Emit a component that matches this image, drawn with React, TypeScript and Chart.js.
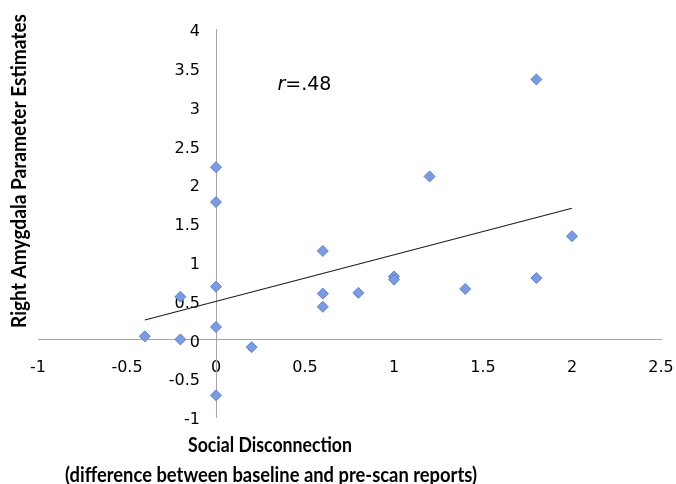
import React, { useEffect, useRef } from "react";
import { Chart, registerables } from "chart.js";

Chart.register(...registerables);

// Data
const xValues = [-0.4, -0.2, -0.2, 0, 0, 0, 0, 0, 0.2, 0.6, 0.6, 0.6, 0.8, 1.0, 1.0, 1.2, 1.4, 1.8, 1.8, 2.0];
const yValues = [0.04, 0.55, 0.0, 2.22, 1.77, 0.68, 0.16, -0.72, -0.1, 1.14, 0.59, 0.42, 0.6, 0.81, 0.77, 2.1, 0.65, 3.35, 0.79, 1.33];
const trendX = [-0.4, 2.0];
const trendY = [0.25, 1.69];

const xRange = [-1, 2.5];
const yRange = [-1, 4];
const tickStep = 0.5;
const axisCross = 0;

const xTitleLines = ["Social Disconnection", "(difference between baseline and pre-scan reports)"];
const yTitle = "Right Amygdala Parameter Estimates";
const rLabelItalic = "r";
const rLabelRest = "=.48";
const rLabelAt = [0.345, 3.22];

const TITLE_FONT = "Lato";
const TITLE_SIZE = 21;

function drawScaled(ctx: CanvasRenderingContext2D, text: string, cx: number, cy: number, targetWidth: number) {
  const w = ctx.measureText(text).width;
  ctx.save();
  ctx.translate(cx, cy);
  ctx.scale(targetWidth / w, 1);
  ctx.fillText(text, 0, 0);
  ctx.restore();
}

// Moves the axes so they cross at value 0 (Excel-style); keeps a label band next to each axis
const crossPlugin = {
  id: "crossPlugin",
  afterLayout(chart: any) {
    const xs = chart.scales.x;
    const ys = chart.scales.y;
    const px = xs.getPixelForValue(axisCross);
    const py = ys.getPixelForValue(axisCross);
    ys.right = px;
    ys.left = 0;
    xs.top = py;
    xs.bottom = chart.height;
  },
};

const textPlugin = {
  id: "textPlugin",
  afterDraw(chart: any) {
    const ctx: CanvasRenderingContext2D = chart.ctx;
    ctx.save();
    ctx.fillStyle = "#000";
    ctx.font = `bold ${TITLE_SIZE}px ${TITLE_FONT}`;
    ctx.textAlign = "center";
    ctx.textBaseline = "middle";
    drawScaled(ctx, xTitleLines[0], 270, 445, 164);
    drawScaled(ctx, xTitleLines[1], 271, 475, 412);

    ctx.save();
    ctx.translate(19, 171);
    ctx.rotate(-Math.PI / 2);
    drawScaled(ctx, yTitle, 0, 0, 314);
    ctx.restore();

    const px = chart.scales.x.getPixelForValue(rLabelAt[0]);
    const py = chart.scales.y.getPixelForValue(rLabelAt[1]);
    ctx.textAlign = "left";
    ctx.textBaseline = "alphabetic";
    ctx.font = 'italic 19px "DejaVu Sans"';
    ctx.fillText(rLabelItalic, px, py);
    const w = ctx.measureText(rLabelItalic).width;
    ctx.font = '19px "DejaVu Sans"';
    ctx.fillText(rLabelRest, px + w, py);
    ctx.restore();
  },
};

const fmt = (v: any) => String(Math.round(Number(v) * 10) / 10);

export default function App() {
  const canvasRef = useRef<HTMLCanvasElement | null>(null);

  useEffect(() => {
    document.body.style.margin = "0";
    const canvas = canvasRef.current;
    if (!canvas) return;
    const points = xValues.map((x, i) => ({ x, y: yValues[i] }));
    const trend = trendX.map((x, i) => ({ x, y: trendY[i] }));
    const tickFont = { family: '"DejaVu Sans"', size: 16 };

    const chart = new Chart(canvas, {
      type: "scatter",
      data: {
        datasets: [
          {
            label: "data",
            data: points,
            pointStyle: "rectRot",
            pointRadius: 5.5,
            pointBackgroundColor: "#7b9be0",
            pointBorderColor: "#5f80cc",
            pointBorderWidth: 1,
            showLine: false,
          },
          {
            label: "trend",
            data: trend,
            showLine: true,
            pointRadius: 0,
            borderColor: "#1e1e1e",
            borderWidth: 1.2,
            fill: false,
          },
        ],
      },
      options: {
        responsive: false,
        animation: false,
        devicePixelRatio: 1,
        layout: { padding: { left: 38, top: 29, right: 15, bottom: 67 } },
        plugins: { legend: { display: false }, tooltip: { enabled: false } },
        scales: {
          x: {
            type: "linear",
            position: "bottom",
            min: xRange[0],
            max: xRange[1],
            afterFit: (s: any) => { s.height = 0; },
            ticks: { stepSize: tickStep, color: "#000", font: tickFont, padding: 2, maxRotation: 0, callback: fmt },
            grid: { display: false, drawTicks: true, tickLength: 17 },
            border: { display: true, color: "#a6a6a6", width: 1 },
          },
          y: {
            type: "linear",
            position: "left",
            min: yRange[0],
            max: yRange[1],
            afterFit: (s: any) => { s.width = 0; },
            ticks: { stepSize: tickStep, color: "#000", font: tickFont, padding: 2, labelOffset: 3, callback: fmt },
            grid: { display: false, drawTicks: true, tickLength: 14 },
            border: { display: true, color: "#a6a6a6", width: 1 },
          },
        },
      },
      plugins: [crossPlugin, textPlugin],
    });
    return () => chart.destroy();
  }, []);

  return (
    <div style={{ position: "absolute", left: 0, top: 0, width: 676, height: 484, background: "#fff" }}>
      <canvas ref={canvasRef} width={676} height={484} />
    </div>
  );
}
